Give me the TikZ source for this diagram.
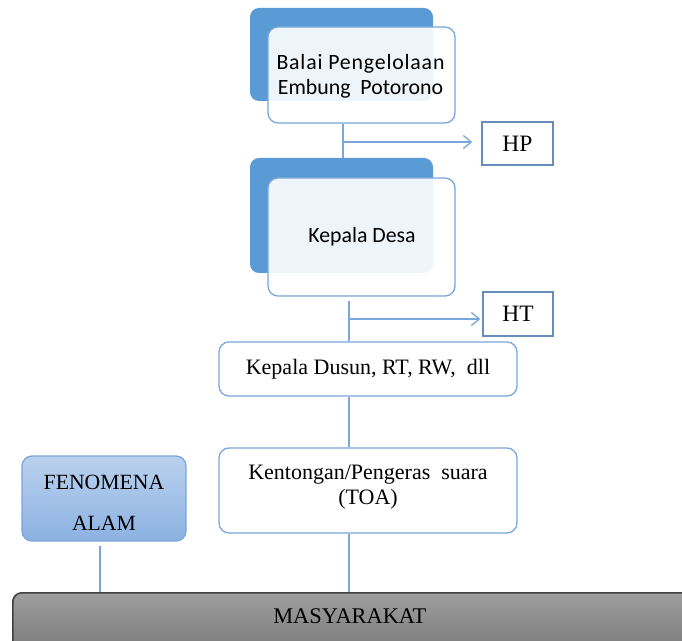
\documentclass[tikz,border=0pt]{standalone}
\usepackage{fontspec}
\setmainfont{Liberation Serif}
\newfontfamily\calibrifont{Carlito}
\newfontfamily\calibrispread{Carlito}[LetterSpace=3.8]
\usetikzlibrary{arrows.meta,calc}
\definecolor{darkblue}{HTML}{5B9BD5}
\definecolor{lineblue}{HTML}{79A6DB}
\definecolor{fentop}{HTML}{BAD1EE}
\definecolor{fenbot}{HTML}{8CB2E2}
\definecolor{gtop}{HTML}{9E9E9E}
\definecolor{gbot}{HTML}{747474}
\tikzset{
  backbox/.style={fill=darkblue, rounded corners=9pt, inner sep=0pt},
  frontbox/.style={draw=lineblue, line width=1.3pt, fill=white, fill opacity=0.9, text opacity=1, rounded corners=10pt, inner sep=0pt},
  calfont/.style={font=\calibrifont\fontsize{21.8}{25}\selectfont, align=center},
  rbox/.style={draw=lineblue, line width=1.3pt, fill=white, rounded corners=10pt, inner sep=0pt, font=\fontsize{22}{25}\selectfont, align=center},
  sqbox/.style={draw=lineblue!85!black, line width=1.3pt, fill=white, inner sep=0pt, font=\fontsize{23.5}{25}\selectfont},
  fenbox/.style={draw=lineblue, line width=1.3pt, top color=fentop, bottom color=fenbot, rounded corners=10pt, inner sep=0pt, font=\fontsize{21.7}{41}\selectfont, align=center},
  conn/.style={draw=lineblue, line width=1.4pt},
  arr/.style={conn, -{Straight Barb[length=8pt,width=13pt,line width=1.3pt]}},
}
\begin{document}
\begin{tikzpicture}[x=1pt,y=1pt]
\useasboundingbox (0,0) rectangle (682,640);
% Balai
\node[backbox, minimum width=183pt, minimum height=93pt] (bb) at (341.5,585.5) {};
\node[frontbox, minimum width=187pt, minimum height=96pt] (bf) at (361.5,565) {};
\node[calfont] (bt) at (360.5,564) {{\calibrispread\fontsize{21.8}{25}\selectfont Balai Pengelolaan}\\Embung\ \ Potorono};
% Kepala Desa
\node[backbox, minimum width=183pt, minimum height=115pt] (kb) at (341.5,424.5) {};
\node[frontbox, minimum width=187pt, minimum height=118pt] (kf) at (361.5,403) {};
\node[calfont] (kt) at (362,403) {Kepala\ Desa};
% HP HT
\node[sqbox, minimum width=71pt, minimum height=43pt] (hp) at (517.5,496.5) {HP};
\node[sqbox, minimum width=70pt, minimum height=44pt] (ht) at (518,326) {HT};
% Dusun, Kentongan
\node[rbox, minimum width=298pt, minimum height=54pt] (du) at (368,271) {Kepala Dusun, RT, RW,\ \ dll};
\node[rbox, minimum width=298pt, minimum height=85pt] (ke) at (368,149.5) {Kentongan/Pengeras\ \ suara\\(TOA)\\[-13pt]\mbox{}};
% Fenomena
\node[fenbox, minimum width=164pt, minimum height=85pt] (fe) at (104,141.5) {\mbox{}\\[-19pt]FENOMENA\\ALAM};
% Masyarakat
\begin{scope}
\clip (0,0) rectangle (682,640);
\node[draw=black!75, line width=1.6pt, top color=gtop, bottom color=gbot, rounded corners=9pt, minimum width=700pt, minimum height=70pt, anchor=north west, inner sep=0pt,
  label={[anchor=center, xshift=-13pt, yshift=-24pt, font=\fontsize{22.4}{25}\selectfont]north:MASYARAKAT}] (ma) at (12,48) {};
\end{scope}
% connectors
\coordinate (x1) at (343,0);
\coordinate (x2) at (349,0);
\coordinate (x3) at (100,0);
\coordinate (j1) at (343,498);
\coordinate (j2) at (349,321);
\path[conn] (bf.south -| x1) -- (kb.north -| x1);
\path[arr] (j1) -- ([xshift=-9pt]hp.west |- j1);
\path[conn] ([yshift=-4pt]kf.south -| x2) -- (du.north -| x2);
\path[arr] (j2) -- ([xshift=-2pt]ht.west |- j2);
\path[conn] (du.south -| x2) -- (ke.north -| x2);
\path[conn] (ke.south -| x2) -- (ma.north -| x2);
\path[conn] ([yshift=-4pt]fe.south -| x3) -- (ma.north -| x3);
\end{tikzpicture}
\end{document}
